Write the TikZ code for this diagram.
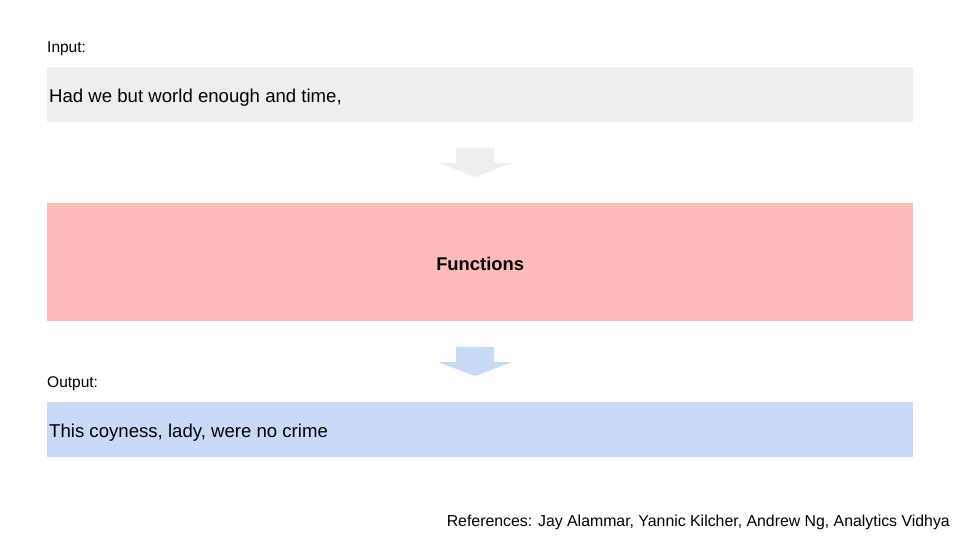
\documentclass[tikz,border=0pt]{standalone}
\usepackage{fontspec}
\setmainfont{Liberation Sans}
\definecolor{ingray}{HTML}{EEEEEE}
\definecolor{fnpink}{HTML}{FFBBBB}
\definecolor{outblue}{HTML}{C9DAF8}
\begin{document}
\begin{tikzpicture}[x=1pt,y=-1pt,
  panel/.style={minimum width=866pt,anchor=north west,inner sep=0pt,draw=none},
  lbl/.style={anchor=base west,inner sep=0pt,font=\fontsize{15.5}{18}\selectfont},
  body/.style={anchor=west,inner sep=0pt,font=\fontsize{18.6}{22}\selectfont}]
\useasboundingbox (0,0) rectangle (960,540);
\fill[white] (0,0) rectangle (960,540);
% boxes
\node[panel,fill=ingray,minimum height=55pt] (inbox) at (47,67) {};
\node[panel,fill=fnpink,minimum height=118pt] (fnbox) at (47,203) {};
\node[panel,fill=outblue,minimum height=55pt] (outbox) at (47,402) {};
% labels
\node[lbl] (inlbl) at (47,53) {Input:};
\node[body] (intext) at (49,98) {Had we but world enough and time,};
\node[inner sep=0pt,font=\bfseries\fontsize{18.4}{22}\selectfont] (fntext) at ([yshift=-1.5pt]fnbox.center) {Functions};
\node[lbl] (outlbl) at (47,387) {Output:};
\node[body] (outtext) at (49,433) {This coyness, lady, were no crime};
\node[anchor=base east,inner sep=0pt,font=\fontsize{15.85}{18}\selectfont] (refs) at (950,526) {References: Jay Alammar, Yannic Kilcher, Andrew Ng, Analytics Vidhya};
% block arrows
\coordinate (a1) at (475,148);
\coordinate (a2) at (475,347);
\fill[ingray] (a1) ++(-19,0) -- ++(38,0) -- ++(0,15) -- ++(18,0) -- ++(-37,14) -- ++(-36,-14) -- ++(17,0) -- cycle;
\fill[outblue] (a2) ++(-19,0) -- ++(38,0) -- ++(0,15) -- ++(18,0) -- ++(-37,14) -- ++(-37,-14) -- ++(18,0) -- cycle;
\end{tikzpicture}
\end{document}
